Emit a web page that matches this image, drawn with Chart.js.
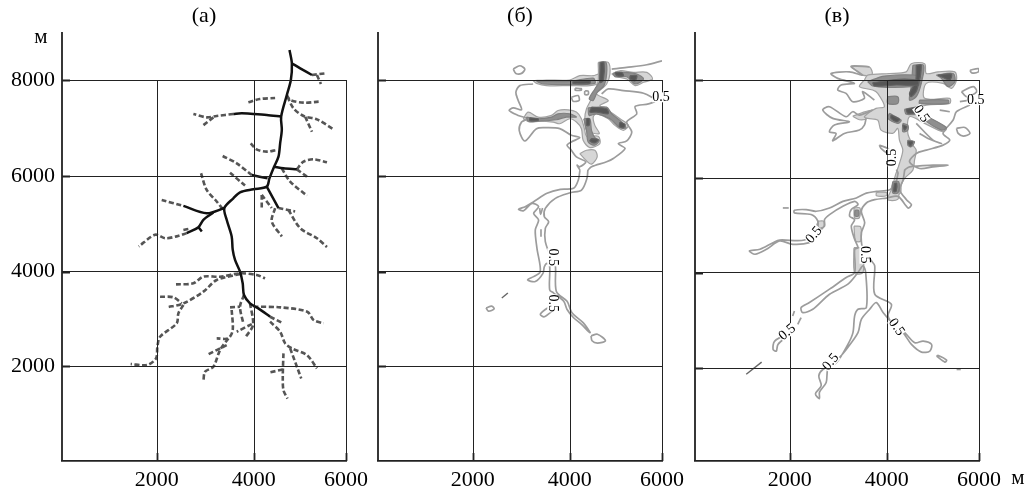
<!DOCTYPE html>
<html>
<head>
<meta charset="utf-8">
<script src="https://cdn.jsdelivr.net/npm/chart.js@4/dist/chart.umd.js"></script>
<style>
  html, body { margin: 0; padding: 0; background: #fff; }
  #wrap { position: relative; width: 1030px; height: 488px; overflow: hidden; }
  #wrap div { position: absolute; top: 0; height: 488px; }
</style>
</head>
<body>
<div id="wrap">
  <div style="left:0;width:408px"><canvas id="panelA"></canvas></div>
  <div style="left:330px;width:380px"><canvas id="panelB"></canvas></div>
  <div style="left:644px;width:386px"><canvas id="panelC"></canvas></div>
</div>
<script>
// ---------- Axis values ----------
const X_TICKS = [2000, 4000, 6000];
const Y_TICKS = [2000, 4000, 6000, 8000];
const PANEL_TITLES = ["(а)", "(б)", "(в)"];
const UNIT = "м";

// every line below is a flat list x, y, x, y ... in metres

// ---------- Panel (а): river network ----------
const aSolid = [
  [4776,8625, 4827,8347, 4805,8000, 4718,7688, 4595,7237, 4609,6958, 4573,6681, 4537,6403, 4442,6194, 4341,5951, 4283,5778, 3993,5722, 3718,5660, 3580,5535, 3395,5330, 3443,5085, 3546,4738, 3567,4460, 3615,4247, 3718,4000, 3773,3753, 3800,3505, 3924,3328, 4100,3222, 4355,3045],
  [4827,8347, 5008,8243, 5262,8104],
  [4595,7237, 4283,7271, 3993,7292, 3752,7306, 3580,7292],
  [4442,6194, 4645,6160, 4935,6139],
  [3959,6021, 4300,5951],
  [2550,5375, 3031,5222, 3395,5330],
  [3168,5236, 2962,5085, 2859,4931, 2618,4806],
  [2859,4931, 2930,4840],
  [4283,5778, 4537,5330]
];
const aDashed = [
  [5262,8104, 5551,8139],
  [5370,8104, 5457,7917],
  [3580,7292, 3237,7250, 3031,7222, 2756,7292],
  [3168,7222, 2949,7049],
  [3890,7535, 4130,7604, 4464,7625],
  [4718,7688, 4790,7584, 5080,7528, 5407,7549],
  [4732,7653, 4862,7410, 5080,7250, 5370,7181, 5733,6972],
  [5116,7236, 5262,6924],
  [3938,6681, 4062,6556, 4283,6508, 4500,6542],
  [4935,6139, 5153,5987],
  [4935,6139, 5080,6300, 5298,6348, 5588,6286],
  [4609,6160, 4790,5883, 5153,5590],
  [3360,6417, 3650,6264, 3959,6021],
  [3512,6070, 3821,5800],
  [2914,6057, 3030,5710, 3237,5467, 3374,5293],
  [2103,5500, 2550,5375],
  [2618,4806, 2412,4738, 2172,4700, 1966,4772, 1622,4528],
  [2550,4870, 2690,4900],
  [4537,5330, 4898,5260],
  [4754,5290, 5008,4910, 5370,4700, 5588,4517],
  [4464,5330, 4391,5050, 4609,4737],
  [4174,5605, 4174,5300],
  [4174,5605, 4391,5330],
  [2398,3731, 2756,3753, 2962,3894, 3305,3894, 3718,3965, 4065,3930, 4246,3859],
  [3718,3950, 3237,3823, 2962,3576, 2550,3328, 2206,3243],
  [2069,3470, 2344,3456, 2516,3328],
  [2550,3293, 2447,3116, 2412,2904, 2069,2621, 2014,2409, 1986,2162, 1794,2020, 1450,2042],
  [3800,3505, 3718,3258, 3786,2904],
  [3512,3243, 3718,3258],
  [3546,3187, 3567,2763, 3475,2586, 3237,2586],
  [3477,2586, 3306,2338, 3168,1985, 2996,1879, 2962,1667],
  [3443,2444, 3030,2232],
  [3924,3328, 3986,2869, 3828,2607],
  [3960,2890, 3650,2727],
  [4000,3258, 4580,3244, 5160,3152, 5298,2975, 5515,2904],
  [4355,2940, 4573,2727, 4681,2480, 4826,2374, 5153,2232, 5370,1950],
  [4355,3045, 4609,2918],
  [4790,2374, 5030,1738],
  [4645,2268, 4630,1773, 4645,1490, 4732,1313],
  [4630,1928, 4319,1858]
];

// ---------- Panel (б): contours ----------
const bLines = [
  [4394,6125, 4374,5951, 4256,5707, 4015,5651, 3704,5533, 3497,5324, 3477,5150, 3566,5045, 3497,4906, 3497,4627, 3635,4244, 3704,4139, 3725,3581, 3946,3372, 4049,3128, 4291,2919, 4443,2710, 4415,2724, 4256,2884, 4084,3024, 3946,3198, 3877,3372, 3670,3547, 3587,3616, 3587,4104, 3532,4174, 3477,4104, 3449,3965, 3290,3791, 3132,3826, 3256,3895, 3394,4000, 3325,4487, 3290,4871, 3359,5080, 3256,5219, 3359,5359, 3221,5428, 3049,5275, 2945,5303, 3083,5359, 3256,5463, 3532,5638, 3808,5721, 4084,5742, 4187,5916, 4222,6125],
  [3670,3303, 3497,3198, 3394,3094, 3477,3045, 3670,3198],
  [4463,2640, 4601,2675, 4774,2536, 4601,2487, 4484,2536, 4463,2640],
  [2276,3233, 2393,3268, 2442,3212, 2324,3163, 2276,3233],
  [3408,4885, 3408,4731],
  [3380,5330, 3400,5200, 3440,5330],
  [4393,6123, 4473,6192, 4800,6296, 4945,6365, 5200,6572, 5054,6675, 5236,6730, 5345,6917, 5236,7124, 5454,7296, 5418,7448, 5708,7503, 5854,7572, 5600,7724, 5163,7779, 4836,7814, 4691,7710],
  [4222,6123, 4160,6227, 4218,6192, 4349,6296, 4145,6399, 4036,6537, 3945,6641, 4036,6710, 4218,6800, 4036,6848, 3795,6986, 3520,7006, 3315,6986, 3075,6730, 2959,6951, 3007,7124, 3123,7193, 2938,7262, 2753,7365, 2836,7420, 3007,7379, 2938,7572, 2890,7745, 2972,7883, 3246,7917],
  [2836,8228, 2972,8297, 3075,8228, 3007,8138, 2890,8138, 2836,8228],
  [4910,8228, 5236,8262, 5672,8317, 6000,8400],
  [4036,7641, 4182,7676, 4204,7572, 4073,7558, 4036,7641],
  [4120,7830, 4250,7820, 4250,7790, 4120,7790, 4120,7830],
  [4327,7770, 4400,7770, 4400,7700, 4327,7700, 4327,7770]
];
const bLight = [
  [3041,7193, 3144,7331, 3349,7227, 3623,7262, 3760,7365, 3966,7379, 4145,7331, 4254,7193, 4327,6951, 4364,6827, 4618,6827, 4654,6675, 4436,6592, 4291,6744, 4254,6986, 4145,7124, 4000,7193, 3795,7089, 3658,7124, 3383,7144, 3178,7124],
  [4618,8366, 4836,8366, 4872,8124, 4800,7917, 4691,7814, 4582,7710, 4836,7572, 4654,7469, 4836,7365, 5090,7193, 5272,7055, 5163,6951, 4981,7055, 4836,7193, 4582,7296, 4509,7227, 4545,7055, 4640,6882, 4364,6951, 4327,7193, 4364,7400, 4473,7607, 4545,7779, 4618,7986],
  [3246,7986, 3520,8000, 4000,8000, 4218,8090, 4509,8090, 4654,8124, 4654,7952, 4436,7883, 4000,7883, 3520,7883, 3315,7931],
  [4909,8124, 5090,8193, 5381,8159, 5672,8159, 5796,8021, 5600,7952, 5418,7883, 5236,8021, 5018,8069],
  [4218,6468, 4364,6537, 4545,6537, 4596,6399, 4473,6247, 4349,6330]
];
const bMid = [
  [4640,8366, 4785,8366, 4800,8124, 4742,7883, 4596,7745, 4509,7572, 4422,7607, 4545,7814, 4654,7986],
  [4400,7420, 4800,7434, 4909,7296, 5127,7124, 5221,7006, 5090,7006, 4872,7193, 4582,7296, 4422,7262],
  [4305,7193, 4436,7193, 4473,6951, 4545,6800, 4640,6744, 4545,6641, 4400,6710, 4364,6951],
  [3315,7972, 4000,7972, 4509,8041, 4545,7931, 4000,7903, 3452,7917],
  [4945,8138, 5163,8159, 5454,8124, 5600,8021, 5418,7917, 5236,8069, 4981,8069],
  [3109,7227, 3349,7193, 3623,7227, 3760,7296, 4000,7296, 4145,7227, 3932,7227, 3726,7172, 3349,7144, 3144,7144]
];
const bDark = [
  [4473,7434, 4800,7400, 4836,7296, 4582,7331, 4436,7331],
  [4669,8366, 4742,8366, 4727,7986, 4654,7952],
  [4073,7972, 4436,7986, 4436,7931, 4073,7931],
  [4981,8159, 5127,8159, 5163,8090, 5018,8090],
  [5309,8090, 5454,8090, 5418,7986, 5309,8021],
  [4364,7193, 4422,7193, 4422,7055, 4364,7055],
  [4473,6779, 4618,6758, 4545,6689, 4436,6730],
  [5090,7124, 5200,7075, 5163,7006, 5076,7034],
  [3178,7213, 3349,7193, 3349,7158, 3178,7158]
];
const bThin = [[2600,3442, 2725,3547]];

// ---------- Panel (в): contours ----------
const cLines = [
  [4391,6175, 4355,5965, 4283,5755, 4428,5545, 4536,5440, 4464,5370, 4246,5615, 3994,5580, 3753,5545, 3580,5475, 3477,5300, 3546,5055, 3477,4845, 3477,4670, 3511,4495, 3684,4250, 3753,4145, 3753,3550, 4101,3340, 4029,3095, 4174,2885, 4391,2745, 4609,2535, 4790,2570, 4972,2500, 4935,2360, 4754,2339, 4536,2500, 4355,2745, 4174,2885, 3925,3165, 3787,3375, 3649,3235, 3477,3025, 3408,2745, 3166,2395, 2959,2150, 2787,1975, 2752,1695, 2614,1485, 2614,1345, 2531,1450, 2649,1625, 2600,1835, 2683,1975, 2959,2115, 3200,2500, 3304,2745, 3339,3095, 3408,3235, 3580,3270, 3566,4005, 3511,4145, 3408,4005, 3200,3760, 2821,3550, 2476,3235, 2269,3165, 2235,3270, 2407,3375, 2821,3655, 3166,3900, 3339,4005, 3339,4495, 3408,4530, 3339,4705, 3270,4985, 3339,5125, 3235,5195, 3270,5335, 3408,5440, 3339,5510, 3097,5405, 2821,5230, 2718,5125, 2718,4985, 2580,4915, 2580,5090, 2442,5230, 2097,5265, 2097,5321, 2338,5335, 2545,5300, 2821,5370, 3097,5510, 3373,5580, 3580,5685, 3787,5720, 4065,5755, 4174,5860, 4246,6105, 4210,6175],
  [2683,4950, 2476,4740, 2407,4635, 2062,4600, 1786,4670, 1510,4495, 1269,4390, 1151,4460, 1372,4495, 1648,4635, 1786,4691, 2304,4691, 2511,4880, 2580,5055],
  [2097,3200, 2062,3095],
  [2235,3060, 2166,2920],
  [1993,2745, 1683,2570, 1648,2395, 1717,2360, 1752,2500, 1958,2685],
  [5080,2255, 5261,2129, 5298,2171, 5116,2269, 5080,2255],
  [5515,1975, 5605,1975],
  [1855,5370, 1979,5370],
  [4385,6164, 4494,6232, 5003,6266, 5331,6266, 5003,6232, 4712,6198, 4494,6334, 4640,6504, 4858,6572, 5221,6674, 5367,6776, 5221,6912, 5440,7184, 5512,7354, 5804,7490],
  [3643,8272, 3265,8285, 3505,8102, 3231,8170, 2853,8136, 2990,8034, 3334,7932, 3059,7898, 2990,7796, 3162,7728, 3299,7558, 3540,7626, 3505,7762, 3746,7592],
  [3711,7388, 3437,7286, 3299,7354, 3162,7252, 2818,7456, 2681,7388, 2887,7218, 3231,7150, 2922,7082, 2818,6946, 2956,6912, 2887,6762, 3127,6912, 3437,6980, 3540,7082, 3574,7218],
  [3849,6674, 4022,6606, 4131,6504, 4022,6504, 3883,6606, 3849,6674],
  [5512,7014, 5694,7034, 5804,6912, 5658,6858, 5549,6912, 5512,7014],
  [5804,8204, 5986,8238, 5986,8170, 5840,8150, 5804,8204],
  [5621,7762, 5876,7864, 5949,7762, 5731,7660, 5621,7762],
  [5585,7558, 5804,7592],
  [5149,7388, 5367,7354],
  [4640,7116, 5003,6776, 5185,6708, 4894,6810, 4712,6912]
];
const cLight = [
  [3540,8000, 3608,8102, 4058,8136, 4422,8170, 4531,8340, 4822,8340, 4858,8136, 5112,8170, 5476,8170, 5512,8000, 5403,7830, 5221,7932, 4858,7932, 4822,7626, 5367,7626, 5367,7524, 4858,7490, 4567,7388, 4785,7354, 5040,7150, 5294,7014, 5221,6946, 4822,7116, 4494,7252, 4458,6912, 4567,6674, 4640,6572, 4603,6368, 4567,6164, 4385,5994, 4276,5755, 4240,5551, 4022,5551, 4116,5790, 4189,6062, 4276,6300, 4349,6572, 4276,6776, 4240,7014, 4131,6912, 3883,6980, 3815,7184, 3608,7218, 3540,7252, 3780,7422, 3952,7456, 3815,7728, 3711,7796, 3437,7864],
  [3265,8285, 3643,8272, 3700,8120, 3505,8102],
  [3299,7260, 3540,7350, 3711,7388, 3600,7220, 3437,7190],
  [4138,5930, 4283,5930, 4297,5685, 4138,5650, 4101,5790],
  [3787,5699, 3994,5699, 3994,5629, 3787,5629],
  [3325,5370, 3449,5370, 3435,5160, 3339,5160],
  [3325,4985, 3463,4971, 3463,4670, 3359,4670],
  [3325,4530, 3484,4509, 3511,4005, 3339,3991],
  [2580,5090, 2697,5090, 2697,4971, 2600,4950]
];
const cMid = [
  [3608,7966, 3952,8082, 4713,8082, 4713,7898, 4058,7850, 3711,7878],
  [4567,8306, 4800,8306, 4749,7932, 4640,7660, 4494,7592, 4531,7864],
  [5076,8102, 5440,8136, 5476,7966, 5331,7864, 5185,8034],
  [4385,7402, 4749,7456, 4749,7320, 4422,7306],
  [4712,7592, 5331,7592, 5331,7524, 4712,7524],
  [4822,7286, 5294,7034, 5185,6980, 4785,7218],
  [4058,7320, 4313,7184, 4240,7116, 4022,7218],
  [4349,7116, 4458,7082, 4458,6980, 4349,6946],
  [4458,6776, 4603,6742, 4531,6640, 4458,6674],
  [4131,5925, 4262,5925, 4240,5687, 4131,5687],
  [4022,7660, 4240,7660, 4240,7524, 4022,7524],
  [4190,5890, 4262,5890, 4262,5720, 4190,5720],
  [3345,5320, 3420,5320, 3420,5200, 3345,5200]
];
const cDark = [
  [3711,7946, 4276,8014, 4676,7986, 4676,7898, 4204,7898, 3746,7878],
  [4640,8306, 4749,8306, 4654,7796, 4531,7660, 4494,7728, 4625,7966],
  [4422,7402, 4712,7443, 4712,7354, 4458,7320],
  [4094,7286, 4276,7198, 4218,7150, 4094,7218],
  [4349,7082, 4436,7048, 4385,6980],
  [4458,6742, 4567,6742, 4509,6654],
  [5112,8102, 5403,8122, 5367,8000, 5221,8054],
  [4167,5891, 4218,5891, 4204,5721, 4153,5721]
];
const cThin = [[1407,2129, 1082,1870]];

// ---------- Contour value labels: x, y, turn in degrees ----------
const bLabels = [[5980,7640,0], [3640,4300,90], [3640,3330,90]];
const cLabels = [[5930,7590,0], [4750,7310,55], [4130,6420,-90], [2500,4800,-50], [3540,4380,90], [1950,2750,-40], [2850,2130,-50], [4210,2860,55]];

// ---------- Scale with the figure's slightly uneven tick spacing ----------
class FigureScale extends Chart.LinearScale {
  getPixelForValue(value) {
    const vals = this.options.knotValues;
    const fracs = this.options.knotFractions;
    let i = 0;
    while (i < vals.length - 2 && value > vals[i + 1]) i++;
    const t = (value - vals[i]) / (vals[i + 1] - vals[i]);
    return this.getPixelForDecimal(fracs[i] + t * (fracs[i + 1] - fracs[i]));
  }
}
FigureScale.id = "figure";
FigureScale.defaults = Chart.LinearScale.defaults;
Chart.register(FigureScale);

// ---------- Datasets ----------
function toPoints(flat) {
  const pts = [];
  for (let i = 0; i < flat.length; i += 2) pts.push({ x: flat[i], y: flat[i + 1] });
  return pts;
}

function lineSet(flat, color, width, dash, tension) {
  return {
    data: toPoints(flat), showLine: true, fill: false, pointRadius: 0,
    borderColor: color, borderWidth: width, borderDash: dash || [], tension: tension
  };
}

function blobSet(flat, fillColor, edge) {
  const closed = flat.concat(flat.slice(0, 2));
  return {
    data: toPoints(closed), showLine: true, fill: "shape", pointRadius: 0,
    backgroundColor: fillColor, borderColor: edge, borderWidth: 1.2, tension: 0.3
  };
}

// the first dataset is painted last, so darkest goes first
function contourSets(dark, mid, light, lines, thin) {
  return [
    ...dark.map(f => blobSet(f, "#565656", "#626262")),
    ...mid.map(f => blobSet(f, "#8f8f8f", "#808080")),
    ...thin.map(f => lineSet(f, "#666666", 1.4, [], 0)),
    ...lines.map(f => lineSet(f, "#9c9c9c", 1.7, [], 0.3)),
    ...light.map(f => blobSet(f, "#d6d6d6", "#a2a2a2"))
  ];
}

const riverSets = [
  ...aSolid.map(f => lineSet(f, "#111111", 2.5, [], 0.3)),
  ...aDashed.map(f => lineSet(f, "#555555", 2.6, [5, 2.5], 0.3))
];

// ---------- Axes marks and text ----------
const figureMarks = {
  id: "figureMarks",
  afterDatasetsDraw(chart, args, opts) {
    const { ctx, scales: { x, y } } = chart;
    ctx.save();
    ctx.strokeStyle = "#222";
    ctx.lineWidth = 1;
    ctx.beginPath();
    X_TICKS.forEach(v => {
      const px = Math.round(x.getPixelForValue(v)) + 0.5;
      ctx.moveTo(px, y.getPixelForValue(8000));
      ctx.lineTo(px, y.getPixelForValue(0));
    });
    ctx.stroke();
    // left axis and short heavier ticks inside the frame
    ctx.lineWidth = 1.8;
    ctx.beginPath();
    ctx.moveTo(x.getPixelForValue(0), y.getPixelForValue(9000));
    ctx.lineTo(x.getPixelForValue(0), y.getPixelForValue(0));
    X_TICKS.forEach(v => {
      const px = Math.round(x.getPixelForValue(v)) + 0.5;
      ctx.moveTo(px, y.getPixelForValue(0));
      ctx.lineTo(px, y.getPixelForValue(0) - 8);
    });
    Y_TICKS.forEach(v => {
      const py = Math.round(y.getPixelForValue(v)) + 0.5;
      ctx.moveTo(x.getPixelForValue(0), py);
      ctx.lineTo(x.getPixelForValue(0) + 8, py);
    });
    ctx.stroke();

    ctx.fillStyle = "#000";
    ctx.textAlign = "center";
    ctx.textBaseline = "middle";
    ctx.font = '14px "Liberation Serif"';
    (opts.labels || []).forEach(([lx, ly, turn]) => {
      ctx.save();
      ctx.translate(x.getPixelForValue(lx), y.getPixelForValue(ly));
      ctx.rotate(turn * Math.PI / 180);
      ctx.fillStyle = "#fff";
      ctx.fillRect(-9, -5, 18, 10);
      ctx.fillStyle = "#000";
      ctx.fillText("0.5", 0, 0);
      ctx.restore();
    });

    ctx.font = '21px "Liberation Serif"';
    if (opts.unitTop) ctx.fillText(UNIT, opts.unitTop[0], opts.unitTop[1]);
    if (opts.unitRight) ctx.fillText(UNIT, opts.unitRight[0], opts.unitRight[1]);
    ctx.restore();
  }
};

function renderPanel(canvasId, panel) {
  const side = panel.side;
  return new Chart(document.getElementById(canvasId), {
    type: "scatter",
    data: { datasets: panel.datasets },
    plugins: [figureMarks],
    options: {
      responsive: true,
      maintainAspectRatio: false,
      animation: false,
      layout: { padding: { left: 0, right: side, top: 0, bottom: 0 } },
      plugins: {
        legend: { display: false },
        tooltip: { enabled: false },
        title: {
          display: true,
          fullSize: false,
          text: panel.title,
          color: "#000",
          font: { family: "Liberation Serif", size: 22, weight: "normal", lineHeight: 1.2 },
          padding: { top: 3, bottom: 2.6 }
        },
        figureMarks: { labels: panel.labels, unitTop: panel.unitTop, unitRight: panel.unitRight }
      },
      scales: {
        x: {
          type: "figure",
          min: 0,
          max: 6000,
          knotValues: [0, 2000, 4000, 6000],
          knotFractions: [0, 0.3335, 0.675, 1],
          afterFit: s => { s.height = 27; },
          afterBuildTicks: s => { s.ticks = X_TICKS.map(v => ({ value: v })); },
          border: { display: true, color: "#222", width: 1.8 },
          grid: { display: false, drawTicks: false },
          ticks: {
            color: "#000",
            padding: 6,
            maxRotation: 0,
            autoSkip: false,
            font: { family: "Liberation Serif", size: 22 },
            callback: v => String(v)
          }
        },
        y: {
          type: "figure",
          min: 0,
          max: 9000,
          knotValues: [0, 2000, 4000, 6000, 8000, 9000],
          knotFractions: panel.yFractions,
          afterFit: s => { s.width = side; },
          afterBuildTicks: s => { s.ticks = Y_TICKS.map(v => ({ value: v })); },
          border: { display: false },
          grid: { color: "#222", lineWidth: 1, drawTicks: false, z: 1 },
          ticks: {
            display: panel.yLabels,
            color: "#000",
            padding: 7,
            autoSkip: false,
            font: { family: "Liberation Serif", size: 22 },
            callback: v => String(v)
          }
        }
      }
    }
  });
}

renderPanel("panelA", {
  side: 62, title: PANEL_TITLES[0], datasets: riverSets, yLabels: true,
  yFractions: [0, 0.2214, 0.4413, 0.6643, 0.8881, 1],
  labels: [], unitTop: [41, 37]
});
renderPanel("panelB", {
  side: 48, title: PANEL_TITLES[1], datasets: contourSets(bDark, bMid, bLight, bLines, bThin), yLabels: false,
  yFractions: [0, 0.2214, 0.4413, 0.6643, 0.8881, 1],
  labels: bLabels
});
renderPanel("panelC", {
  side: 51, title: PANEL_TITLES[2], datasets: contourSets(cDark, cMid, cLight, cLines, cThin), yLabels: false,
  yFractions: [0, 0.2161, 0.4390, 0.6592, 0.8881, 1],
  labels: cLabels, unitRight: [374, 478]
});
</script>
</body>
</html>
